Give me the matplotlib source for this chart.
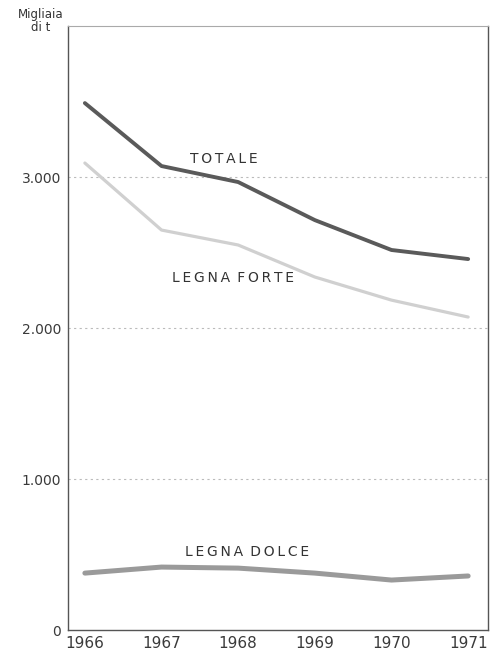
import matplotlib
matplotlib.use("Agg")
import matplotlib.pyplot as plt

years = [1966, 1967, 1968, 1969, 1970, 1971]
totale = [3490, 3073, 2967, 2715, 2517, 2457]
legna_forte = [3093, 2649, 2550, 2338, 2185, 2073]
legna_dolce = [377, 417, 410, 377, 331, 358]
yticks = [0, 1000, 2000, 3000]
ytick_labels = ["0", "1.000", "2.000", "3.000"]

plt.rcParams['font.family'] = ['DejaVu Sans']
fig = plt.figure(figsize=(4.95, 6.52), dpi=100)
ax = fig.add_axes([0.1374, 0.0337, 0.8486, 0.9263])

ax.plot(years, totale, color="#5a5a5a", lw=2.8, solid_capstyle='round', zorder=3)
ax.plot(years, legna_forte, color="#d0d0d0", lw=2.3, solid_capstyle='round', zorder=3)
ax.plot(years, legna_dolce, color="#9a9a9a", lw=3.6, solid_capstyle='round', zorder=3)

ax.set_xlim(1965.78, 1971.26)
ax.set_ylim(0, 4000)
ax.set_yticks(yticks)
ax.set_yticklabels(ytick_labels)
ax.set_xticks(years)
ax.set_xticklabels([str(y) for y in years])
ax.tick_params(axis='both', length=0, colors="#3a3a3a")
ax.tick_params(axis='x', labelsize=11, pad=4)
ax.tick_params(axis='y', labelsize=10, pad=5)
for yv in yticks[1:]:
    ax.axhline(yv, color="#bbbbbb", lw=0.8, ls=(0, (2, 3)), zorder=1)

for side in ['left', 'bottom', 'right']:
    ax.spines[side].set_color("#555555")
    ax.spines[side].set_linewidth(1.0)
ax.spines['top'].set_color("#aaaaaa")
ax.spines['top'].set_linewidth(0.8)

def spaced(s):
    return " \u2009".join("\u2009".join(w) for w in s.split(" "))

tc = "#333333"
ax.text(1967.81, 3122, spaced("TOTALE"), ha='center', va='center', fontsize=10, color=tc)
ax.text(1967.93, 2334, spaced("LEGNA FORTE"), ha='center', va='center', fontsize=10, color=tc)
ax.text(1968.12, 520, spaced("LEGNA DOLCE"), ha='center', va='center', fontsize=10, color=tc)

fig.text(0.083, 0.988, "Migliaia\ndi t", ha='center', va='top', fontsize=8.5, color=tc, linespacing=1.05)

fig.savefig("out.png", dpi=100)
